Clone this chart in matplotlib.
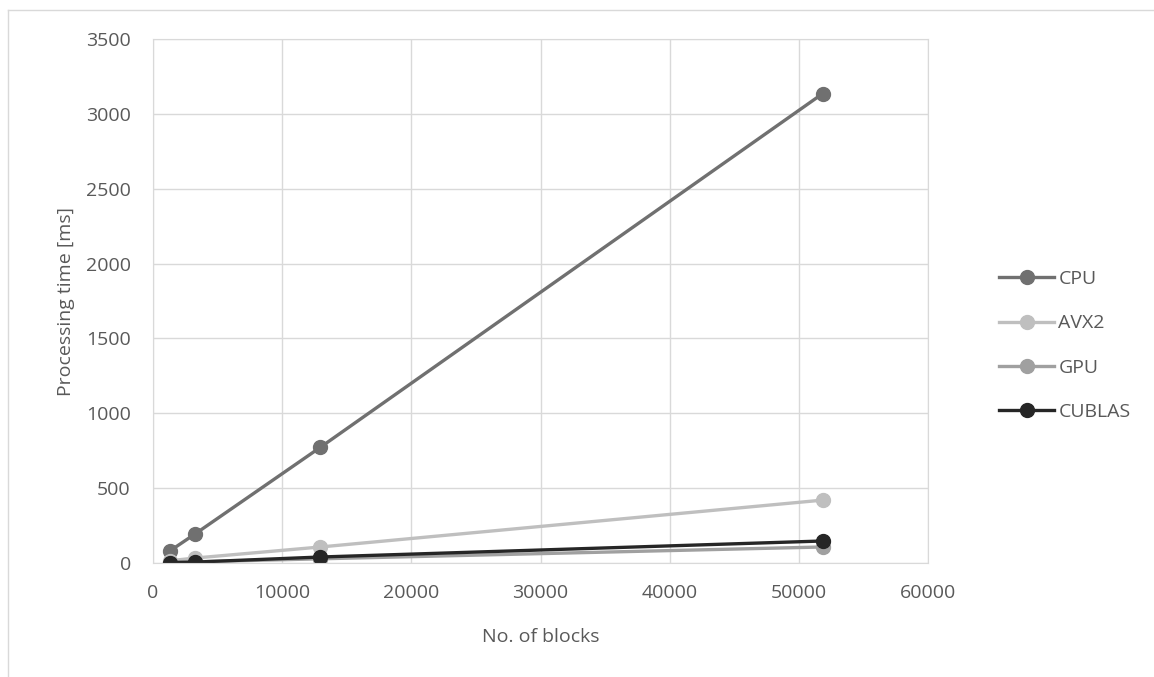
import matplotlib
matplotlib.use("Agg")
import matplotlib.pyplot as plt
from matplotlib.lines import Line2D

plt.rcParams['font.family'] = ['Open Sans', 'DejaVu Sans']

# data
blocks = [1296, 3240, 12960, 51840]
cpu = [80, 193, 773, 3135]
avx2 = [15, 33, 107, 420]
gpu = [3, 8, 28, 107]
cublas = [3, 6, 40, 147]

series = [("CPU", cpu, "#707070"),
          ("AVX2", avx2, "#bfbfbf"),
          ("GPU", gpu, "#a0a0a0"),
          ("CUBLAS", cublas, "#262626")]

txt = "#595959"

fig = plt.figure(figsize=(11.54, 6.77), dpi=100)
ax = fig.add_axes([153/1154, 1 - 563/677, (928-153)/1154, (563-39)/677])

# chart border (Excel style)
fig.add_artist(Line2D([8/1154, 8/1154], [0, 1 - 10/677], color="#d9d9d9", lw=1))
fig.add_artist(Line2D([8/1154, 1], [1 - 10/677, 1 - 10/677], color="#d9d9d9", lw=1))

for name, vals, col in series:
    ax.plot(blocks, vals, color=col, lw=2.4, marker="o", markersize=10, label=name)

ax.set_xlim(0, 60000)
ax.set_ylim(0, 3500)
ax.set_xticks(range(0, 60001, 10000))
ax.set_yticks(range(0, 3501, 500))
ax.grid(True, color="#d9d9d9", lw=1)
ax.set_axisbelow(True)
for s in ax.spines.values():
    s.set_color("#d9d9d9")
ax.tick_params(length=0, labelsize=14, colors=txt)
ax.tick_params(axis="x", pad=15)
ax.tick_params(axis="y", pad=16)

ax.set_xlabel("No. of blocks", fontsize=14, color=txt, labelpad=19)
ax.set_ylabel("Processing time [ms]", fontsize=14, color=txt, labelpad=8)

leg = ax.legend(loc="center left", bbox_to_anchor=(1.069, 0.415), frameon=False,
                fontsize=14, labelspacing=1.35, handlelength=2.85, handletextpad=0.2)
for t in leg.get_texts():
    t.set_color(txt)

fig.savefig("out.png", dpi=100)
